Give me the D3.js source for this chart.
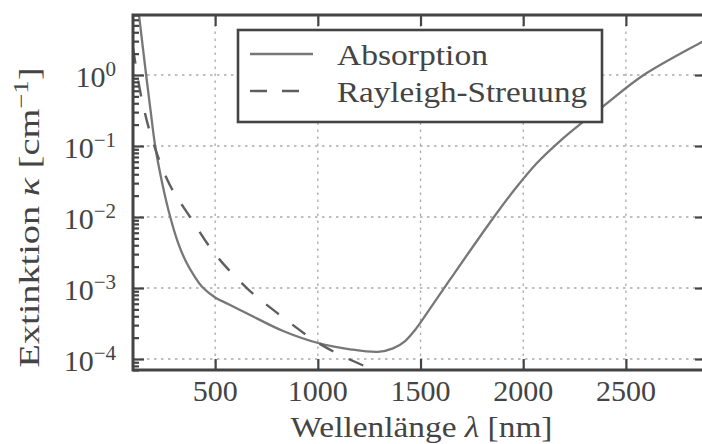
<!DOCTYPE html>
<html>
<head>
<meta charset="utf-8">
<script src="https://cdn.jsdelivr.net/npm/d3@7"></script>
<style>
  body { margin: 0; background: #fff; }
  text { font-family: "Liberation Serif", serif; fill: #444; }
</style>
</head>
<body>
<div id="viz"></div>
<script>
// values
const xTicks   = [500, 1000, 1500, 2000, 2500];
const yTicks   = [1e0, 1e-1, 1e-2, 1e-3, 1e-4];
const yTickExp = ["0", "−1", "−2", "−3", "−4"];

const absLambda = [128, 164, 187, 208, 243, 281, 320, 359, 398, 435, 500, 563, 621, 670, 831, 1001, 1157, 1293, 1366, 1425, 1473, 1522, 1644, 1847, 1960, 2067, 2179, 2291, 2388, 2583, 2870, 2900];
const absKappa  = [7.5, 1.0, 0.292, 0.100, 0.0292, 0.0101, 0.0043, 0.00232, 0.00148, 0.00105, 7.35e-4, 5.96e-4, 4.9e-4, 4.17e-4, 2.48e-4, 1.68e-4, 1.37e-4, 1.26e-4, 1.41e-4, 1.79e-4, 2.56e-4, 4.04e-4, 1.32e-3, 9.08e-3, 0.0248, 0.0577, 0.1175, 0.218, 0.360, 0.984, 2.92, 3.26];

const rayLambda = [100, 143, 199, 280, 378, 500, 654, 800, 1000, 1150, 1300];
const rayKappa  = [2.4, 0.45, 0.11, 0.028, 0.010, 0.0030, 0.0010, 4.5e-4, 1.7e-4, 1.0e-4, 6.5e-5];

const legendLabels = ["Absorption", "Rayleigh-Streuung"];

const width = 702, height = 444,
      margin = {left: 133, right: -4, top: 15, bottom: 74},
      axisColor = "#444",
      lineColor = "#777",
      dashColor = "#5e5e5e";

const svg = d3.select("#viz").append("svg")
  .attr("width", width)
  .attr("height", height);

const x = d3.scaleLinear()
  .domain([100, 2890])
  .range([margin.left, width - margin.right]);

const y = d3.scaleLog()
  .domain([7e-5, 7])
  .range([height - margin.bottom, margin.top]);

const x0 = x.range()[0], x1 = x.range()[1],
      y0 = y.range()[0], y1 = y.range()[1];

svg.append("clipPath").attr("id", "plotclip")
  .append("rect")
  .attr("x", x0).attr("y", y1)
  .attr("width", x1 - x0).attr("height", y0 - y1);

// grid
const grid = svg.append("g")
  .attr("stroke", "#aaa")
  .attr("stroke-width", 1.3)
  .attr("stroke-dasharray", "2.5,4.5");

grid.selectAll(".vg").data(xTicks).join("line")
  .attr("x1", d => x(d)).attr("x2", d => x(d))
  .attr("y1", y0).attr("y2", y1);

grid.selectAll(".hg").data(yTicks).join("line")
  .attr("x1", x0).attr("x2", x1)
  .attr("y1", d => y(d)).attr("y2", d => y(d));

// curves
const line = d3.line()
  .x(d => x(d[0]))
  .y(d => y(d[1]))
  .curve(d3.curveCatmullRom.alpha(0.5));

const plot = svg.append("g").attr("clip-path", "url(#plotclip)");

plot.append("path")
  .attr("d", line(d3.zip(absLambda, absKappa)))
  .style("fill", "none")
  .style("stroke", lineColor)
  .style("stroke-width", 2.3);

plot.append("path")
  .attr("d", line(d3.zip(rayLambda, rayKappa)))
  .style("fill", "none")
  .style("stroke", dashColor)
  .style("stroke-width", 2.4)
  .style("stroke-dasharray", "16,17");

// minor log ticks on the left
const minorY = [];
d3.range(-5, 1).forEach(e => {
  for (let m = 2; m <= 9; m++) {
    const v = m * Math.pow(10, e);
    if (v >= y.domain()[0] && v <= y.domain()[1]) minorY.push(v);
  }
});

function styleAxis(g) {
  g.select(".domain").remove();
  g.selectAll(".tick line")
    .attr("stroke", axisColor)
    .attr("stroke-width", 2.2);
  g.selectAll(".tick text").remove();
}

svg.append("g")
  .attr("transform", `translate(0,${y0})`)
  .call(d3.axisBottom(x).tickValues(xTicks).tickSize(-11).tickFormat(""))
  .call(styleAxis);

svg.append("g")
  .attr("transform", `translate(0,${y1})`)
  .call(d3.axisTop(x).tickValues(xTicks).tickSize(-11).tickFormat(""))
  .call(styleAxis);

svg.append("g")
  .attr("transform", `translate(${x0},0)`)
  .call(d3.axisLeft(y).tickValues(yTicks).tickSize(-11).tickFormat(""))
  .call(styleAxis);

svg.append("g")
  .attr("transform", `translate(${x0},0)`)
  .call(d3.axisLeft(y).tickValues(minorY).tickSize(-6).tickFormat(""))
  .call(styleAxis);

svg.append("g")
  .attr("transform", `translate(${x1},0)`)
  .call(d3.axisRight(y).tickValues(yTicks).tickSize(-11).tickFormat(""))
  .call(styleAxis);

// frame
svg.append("rect")
  .attr("x", x0).attr("y", y1)
  .attr("width", x1 - x0).attr("height", y0 - y1)
  .attr("fill", "none")
  .attr("stroke", axisColor)
  .attr("stroke-width", 3);

// tick labels
svg.append("g").selectAll("text").data(xTicks).join("text")
  .attr("x", d => x(d))
  .attr("y", y0 + 31)
  .attr("text-anchor", "middle")
  .style("font-size", "30px")
  .text(d => d);

const yl = svg.append("g").selectAll("text").data(yTicks).join("text")
  .attr("x", x0 - 17)
  .attr("y", d => y(d) + 12)
  .attr("text-anchor", "end")
  .style("font-size", "30px");
yl.append("tspan").text("10");
yl.append("tspan")
  .attr("dy", -11)
  .style("font-size", "21px")
  .text((d, i) => yTickExp[i]);

// axis titles
const xt = svg.append("text")
  .attr("x", (x0 + x1) / 2 + 2)
  .attr("y", 437)
  .attr("text-anchor", "middle")
  .attr("textLength", 262)
  .attr("lengthAdjust", "spacingAndGlyphs")
  .style("font-size", "30px");
xt.append("tspan").text("Wellenlänge ");
xt.append("tspan").style("font-style", "italic").text("λ");
xt.append("tspan").text(" [nm]");

const yt = svg.append("text")
  .attr("transform", `translate(39,${(y0 + y1) / 2 + 25}) rotate(-90)`)
  .attr("text-anchor", "middle")
  .attr("textLength", 300)
  .attr("lengthAdjust", "spacingAndGlyphs")
  .style("font-size", "30px");
yt.append("tspan").text("Extinktion ");
yt.append("tspan").style("font-style", "italic").text("κ");
yt.append("tspan").text(" [cm");
yt.append("tspan").attr("dy", -11).style("font-size", "21px").text("−1");
yt.append("tspan").attr("dy", 11).text("]");

// legend
const legend = svg.append("g");
legend.append("rect")
  .attr("x", 238).attr("y", 30)
  .attr("width", 364).attr("height", 92)
  .attr("fill", "#fff")
  .attr("stroke", axisColor)
  .attr("stroke-width", 2.6);

const legendRows = [
  {label: legendLabels[0], color: lineColor, dash: null, yy: 54, len: 151},
  {label: legendLabels[1], color: dashColor, dash: "17,15", yy: 91, len: 250}
];

legendRows.forEach(r => {
  legend.append("line")
    .attr("x1", 250).attr("x2", 313)
    .attr("y1", r.yy).attr("y2", r.yy)
    .attr("stroke", r.color)
    .attr("stroke-width", 2.4)
    .attr("stroke-dasharray", r.dash);
  legend.append("text")
    .attr("x", 337)
    .attr("y", r.yy + 11)
    .attr("textLength", r.len)
    .attr("lengthAdjust", "spacingAndGlyphs")
    .style("font-size", "30px")
    .text(r.label);
});
</script>
</body>
</html>
